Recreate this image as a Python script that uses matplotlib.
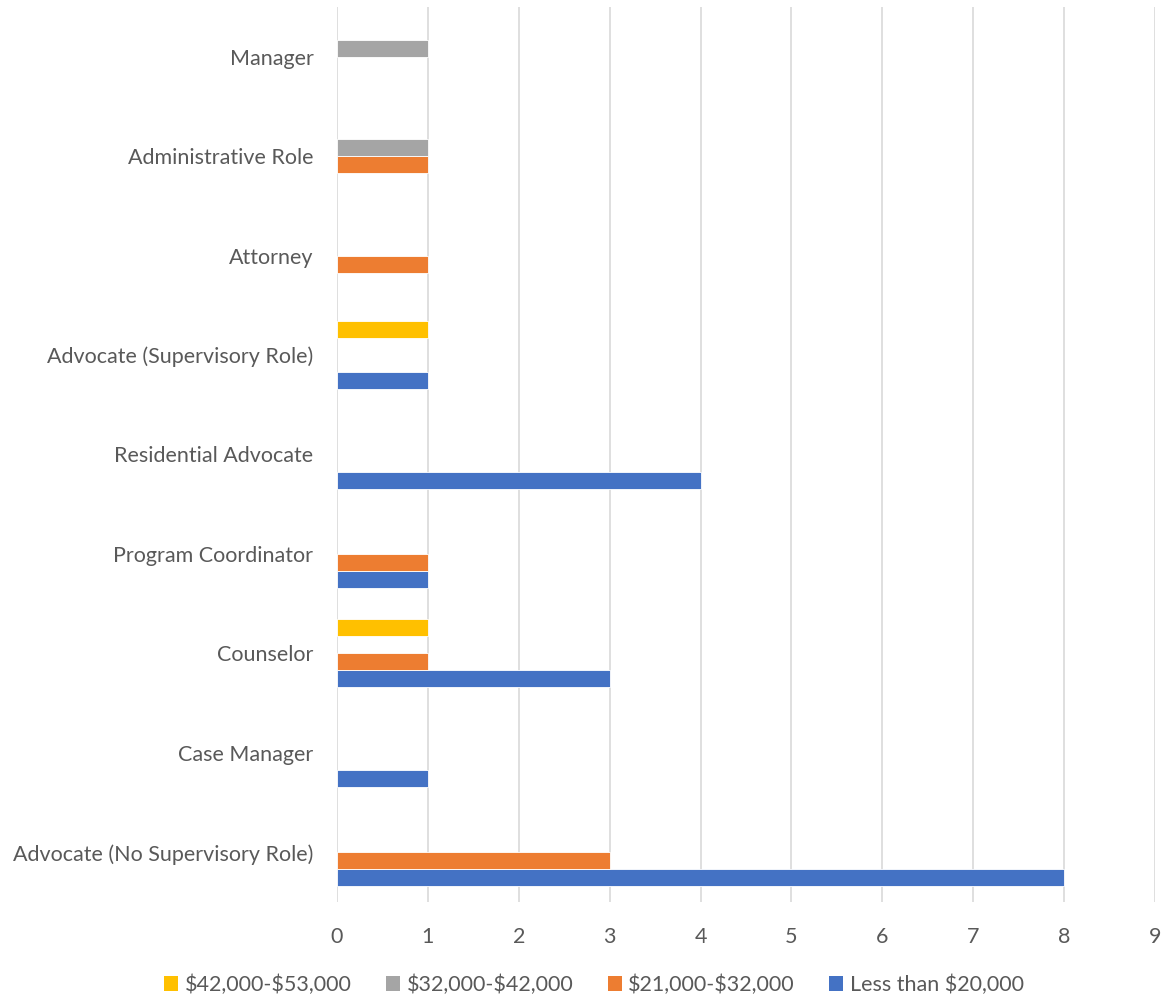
import numpy as np
import matplotlib.pyplot as plt
from matplotlib.patches import Patch

plt.rcParams['font.family'] = ['Lato', 'DejaVu Sans']

roles = ['Advocate (No Supervisory Role)', 'Case Manager', 'Counselor',
         'Program Coordinator', 'Residential Advocate',
         'Advocate (Supervisory Role)', 'Attorney', 'Administrative Role',
         'Manager']

series_names = ['Less than \\$20,000', '\\$21,000-\\$32,000',
                '\\$32,000-\\$42,000', '\\$42,000-\\$53,000']
under_20k = [8, 1, 3, 1, 4, 1, 0, 0, 0]
from_21k = [3, 0, 1, 1, 0, 0, 1, 1, 0]
from_32k = [0, 0, 0, 0, 0, 0, 0, 1, 1]
from_42k = [0, 0, 1, 0, 0, 1, 0, 0, 0]
series_values = [under_20k, from_21k, from_32k, from_42k]
colors = ['#4472C4', '#ED7D31', '#A5A5A5', '#FFC000']

text_color = '#595959'

fig = plt.figure(figsize=(11.67, 9.99), dpi=100)
ax = fig.add_axes([337 / 1167, 1 - 902 / 999, (1155 - 337) / 1167, 895 / 999])

y = np.arange(len(roles))
bar_h = 0.171
for i, (name, vals, c) in enumerate(zip(series_names, series_values, colors)):
    vals = np.array(vals, dtype=float)
    offs = (i - 1.5) * bar_h
    # skip empty cells so no white outline sits on the zero gridline
    keep = vals > 0
    ax.barh(y[keep] + offs, vals[keep], height=bar_h, color=c,
            edgecolor='white', linewidth=0.6, label=name, zorder=3)

ax.set_xlim(0, 9)
ax.set_ylim(-0.5, len(roles) - 0.5)
ax.set_xticks(range(10))
ax.set_yticks(y)
ax.set_yticklabels(roles)
ax.tick_params(axis='both', length=0, colors=text_color, labelsize=15.5)
ax.tick_params(axis='x', pad=18)
ax.tick_params(axis='y', pad=17)

ax.grid(axis='x', color='#D9D9D9', linewidth=1.2, zorder=0)
for s in ax.spines.values():
    s.set_visible(False)

handles = [Patch(facecolor=c) for c in colors[::-1]]
fig.legend(handles, series_names[::-1], loc='center', ncol=4,
           bbox_to_anchor=(594 / 1167, 1 - 985 / 999), frameon=False,
           fontsize=15.5, labelcolor=text_color, handlelength=0.65,
           handleheight=0.65, handletextpad=0.3, columnspacing=1.6)

plt.savefig('out.png', dpi=100)
